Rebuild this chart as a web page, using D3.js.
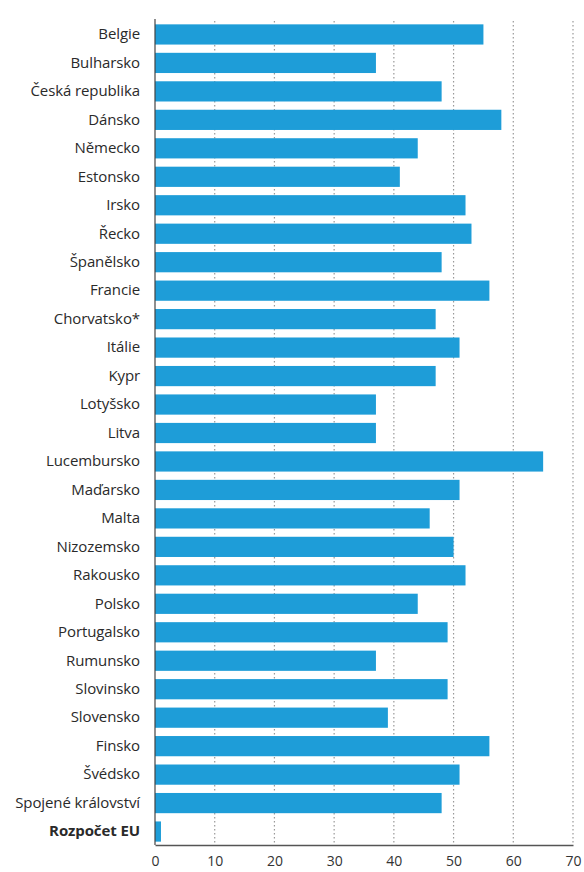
<!DOCTYPE html>
<html><head><meta charset="utf-8">
<script src="https://cdn.jsdelivr.net/npm/d3@7"></script>
<style>body{margin:0;background:#fff}svg{display:block}</style>
</head><body>
<script>
const categories = ["Belgie","Bulharsko","Česká republika","Dánsko","Německo","Estonsko","Irsko","Řecko","Španělsko","Francie","Chorvatsko*","Itálie","Kypr","Lotyšsko","Litva","Lucembursko","Maďarsko","Malta","Nizozemsko","Rakousko","Polsko","Portugalsko","Rumunsko","Slovinsko","Slovensko","Finsko","Švédsko","Spojené království","Rozpočet EU"];
const values = [55,37,48,58,44,41,52,53,48,56,47,51,47,37,37,65,51,46,50,52,44,49,37,49,39,56,51,48,1];
const xTicks = [0,10,20,30,40,50,60,70];

const W = 584, H = 872;
const svg = d3.select("body").append("svg").attr("width", W).attr("height", H);
const x = d3.scaleLinear().domain([0,70]).range([155,573]);
const y = d3.scaleBand().domain(categories).range([21.5,844.5]).paddingInner(0.29).paddingOuter(0.1);

// grid
svg.append("g").selectAll("line").data(xTicks.filter(d=>d>0)).join("line")
  .attr("x1", d=>x(d)).attr("x2", d=>x(d)).attr("y1", 21).attr("y2", 845)
  .attr("stroke", "#999").attr("stroke-width", 1.2).attr("stroke-dasharray", "1.5,2.5");

// bars
svg.append("g").selectAll("rect").data(values).join("rect")
  .attr("x", x(0)).attr("y", (d,i)=>y(categories[i]))
  .attr("width", d=>x(d)-x(0)).attr("height", y.bandwidth())
  .attr("fill", "#1e9dd8");

// y axis
const ya = svg.append("g").attr("transform", `translate(${x(0)},0)`)
  .call(d3.axisLeft(y).tickSize(0).tickPadding(15));
ya.select(".domain").attr("stroke", "#444").attr("stroke-width", 1.2).attr("d", "M0,19V845");
ya.selectAll("text").attr("font-family", "Open Sans").attr("font-size", 15).attr("fill", "#2a2a2a")
  .attr("letter-spacing", -0.1)
  .attr("font-weight", d => d === "Rozpočet EU" ? "bold" : "normal");

// x axis
const xa = svg.append("g").attr("transform", "translate(0,845)")
  .call(d3.axisBottom(x).tickValues(xTicks).tickSize(0).tickPadding(11));
xa.select(".domain").attr("stroke", "#555").attr("stroke-width", 1.5);
xa.selectAll("text").attr("font-family", "Open Sans").attr("font-size", 14).attr("fill", "#333");
</script>
</body></html>
